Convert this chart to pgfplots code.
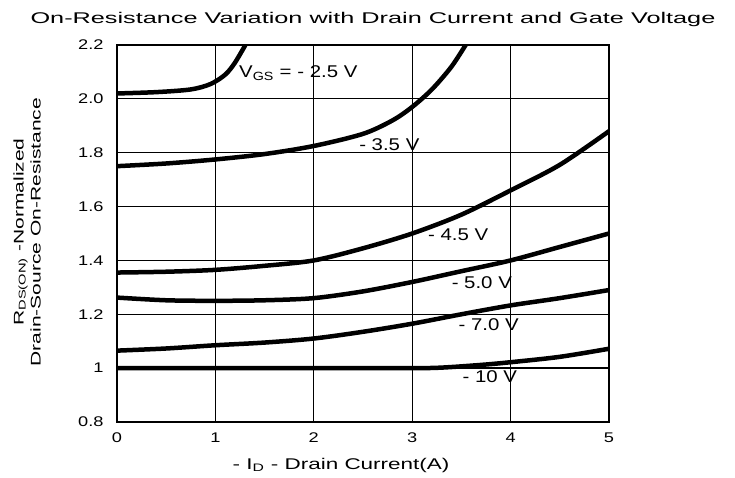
\documentclass[border=0pt]{standalone}
\usepackage{fontspec}
\setmainfont{Liberation Sans}
\usepackage{graphicx}
\usepackage{pgfplots}
\pgfplotsset{compat=1.18}
\usetikzlibrary{calc}
\newcommand{\sx}[1]{\scalebox{1.3}[1]{#1}}
\newcommand{\lab}[1]{\scalebox{1.2}[1]{#1}}
\begin{document}
\begin{tikzpicture}
\begin{axis}[
    scale only axis,
    width=492pt, height=377pt,
    xmin=0, xmax=5, ymin=0.8, ymax=2.2,
    xtick={0,1,2,3,4,5},
    xticklabels={\sx{0},\sx{1},\sx{2},\sx{3},\sx{4},\sx{5}},
    ytick={0.8,1,1.2,1.4,1.6,1.8,2.0,2.2},
    yticklabels={\sx{0.8},\sx{1},\sx{1.2},\sx{1.4},\sx{1.6},\sx{1.8},\sx{2.0},\sx{2.2}},
    tick label style={font=\fontsize{14}{16}\selectfont},
    xticklabel style={yshift=-7pt},
    yticklabel style={xshift=-10pt},
    major tick length=0pt,
    grid=major,
    major grid style={black, line width=1.3pt},
    axis line style={black, line width=1.8pt},
    clip=true,
]
\addplot[black, line width=4.5pt, smooth] coordinates {
    (0,2.02) (0.4,2.025) (0.75,2.035) (0.95,2.055) (1.1,2.09) (1.2,2.135) (1.32,2.21)
};
\addplot[black, line width=4.5pt, smooth] coordinates {
    (0,1.75) (0.5,1.76) (1,1.775) (1.5,1.795) (2,1.825) (2.5,1.87) (2.8,1.92) (3,1.97) (3.2,2.035) (3.4,2.12) (3.56,2.21)
};
\addplot[black, line width=4.5pt, smooth] coordinates {
    (0,1.355) (0.5,1.358) (1,1.365) (1.5,1.38) (2,1.40) (2.5,1.445) (3,1.50) (3.5,1.57) (4,1.66) (4.5,1.755) (5,1.88)
};
\addplot[black, line width=4.5pt, smooth] coordinates {
    (0,1.262) (0.5,1.252) (1,1.25) (1.5,1.252) (2,1.26) (2.5,1.285) (3,1.32) (3.5,1.36) (4,1.40) (4.5,1.45) (5,1.50)
};
\addplot[black, line width=4.5pt, smooth] coordinates {
    (0,1.065) (0.5,1.073) (1,1.085) (1.5,1.095) (2,1.11) (2.5,1.135) (3,1.165) (3.5,1.2) (4,1.233) (4.5,1.26) (5,1.29)
};
\addplot[black, line width=4.5pt, smooth] coordinates {
    (0,1.0) (1,1.0) (2,1.0) (3,1.0) (3.3,1.002) (3.7,1.012) (4,1.022) (4.5,1.042) (5,1.072)
};
\tikzset{curvelab/.style={anchor=west, font=\fontsize{17}{19}\selectfont, inner sep=1pt}}
\node[curvelab] at (axis cs:1.23,2.095) {\lab{V\textsubscript{GS} = - 2.5 V}};
\node[curvelab] at (axis cs:2.45,1.83) {\lab{- 3.5 V}};
\node[curvelab] at (axis cs:3.15,1.497) {\lab{- 4.5 V}};
\node[curvelab] at (axis cs:3.39,1.318) {\lab{- 5.0 V}};
\node[curvelab] at (axis cs:3.46,1.16) {\lab{- 7.0 V}};
\node[curvelab] at (axis cs:3.50,0.968) {\lab{- 10 V}};
\coordinate (bl) at (rel axis cs:0,0);
\coordinate (tr) at (rel axis cs:1,1);
\end{axis}
\node[font=\fontsize{15.5}{18}\selectfont] at ($(bl)+(224pt,-43pt)$) {\scalebox{1.45}[1]{- I\textsubscript{D} - Drain Current(A)}};
\node[font=\fontsize{15.5}{18}\selectfont] at ($(bl)+(256pt,402pt)$) {\scalebox{1.63}[1]{On-Resistance Variation with Drain Current and Gate Voltage}};
\node[rotate=90, font=\fontsize{14}{17}\selectfont, align=center] at ($(bl)+(-90pt,190pt)$) {\scalebox{1.5}[1]{R\textsubscript{DS(ON)} -Normalized}\\\scalebox{1.5}[1]{Drain-Source On-Resistance}};
\pgfresetboundingbox
\path[use as bounding box] ($(bl)+(-117pt,-56pt)$) rectangle ($(tr)+(126pt,45pt)$);
\end{tikzpicture}
\end{document}
